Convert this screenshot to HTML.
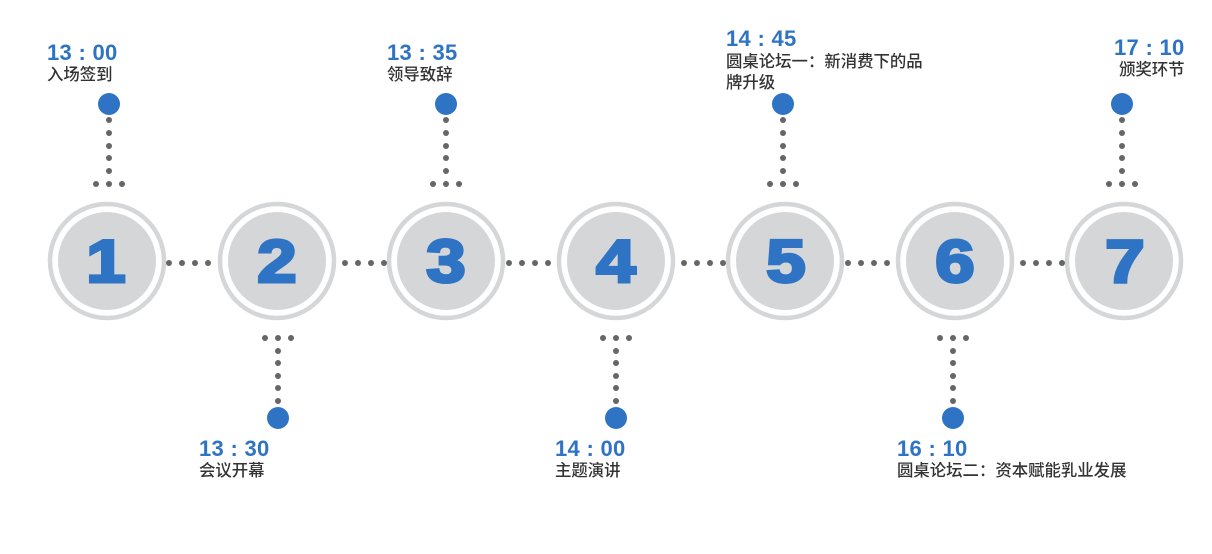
<!DOCTYPE html>
<html><head><meta charset="utf-8"><style>
body{margin:0;width:1212px;height:554px;background:#fff;position:relative;overflow:hidden;font-family:"Liberation Sans","Noto Sans CJK SC",sans-serif}
.t{position:absolute;color:#2f74c4;font-weight:bold;font-size:22px;line-height:22px;white-space:nowrap;letter-spacing:0.3px}
.l{position:absolute;color:#333;font-size:16.4px;line-height:21px;white-space:nowrap;font-weight:500}
svg{position:absolute;left:0;top:0}
.n{font-family:"Liberation Sans",sans-serif;font-weight:900;font-size:60px;fill:#2f74c4;stroke:#2f74c4;stroke-width:3}
</style></head><body>
<svg width="1212" height="554">
<g fill="#d5d6d8">
<circle cx="107" cy="261" r="57" fill="none" stroke="#d5d6d8" stroke-width="4.5"/><circle cx="107" cy="261" r="49"/>
<circle cx="277" cy="261" r="57" fill="none" stroke="#d5d6d8" stroke-width="4.5"/><circle cx="277" cy="261" r="49"/>
<circle cx="446" cy="261" r="57" fill="none" stroke="#d5d6d8" stroke-width="4.5"/><circle cx="446" cy="261" r="49"/>
<circle cx="616" cy="261" r="57" fill="none" stroke="#d5d6d8" stroke-width="4.5"/><circle cx="616" cy="261" r="49"/>
<circle cx="785" cy="261" r="57" fill="none" stroke="#d5d6d8" stroke-width="4.5"/><circle cx="785" cy="261" r="49"/>
<circle cx="955" cy="261" r="57" fill="none" stroke="#d5d6d8" stroke-width="4.5"/><circle cx="955" cy="261" r="49"/>
<circle cx="1124" cy="261" r="57" fill="none" stroke="#d5d6d8" stroke-width="4.5"/><circle cx="1124" cy="261" r="49"/>
</g>
<g text-anchor="middle" class="n">
<text class="n" transform="translate(106,282) scale(1.18,1)">1</text>
<text class="n" transform="translate(277,282) scale(1.18,1)">2</text>
<text class="n" transform="translate(446,282) scale(1.18,1)">3</text>
<text class="n" transform="translate(616,282) scale(1.18,1)">4</text>
<text class="n" transform="translate(786,282) scale(1.18,1)">5</text>
<text class="n" transform="translate(955,282) scale(1.18,1)">6</text>
<text class="n" transform="translate(1125,282) scale(1.18,1)">7</text>
</g>
<g fill="#666">
<circle cx="169" cy="263" r="3"/><circle cx="182" cy="263" r="3"/><circle cx="195" cy="263" r="3"/><circle cx="208" cy="263" r="3"/>
<circle cx="345" cy="263" r="3"/><circle cx="358" cy="263" r="3"/><circle cx="371" cy="263" r="3"/><circle cx="384" cy="263" r="3"/>
<circle cx="509" cy="263" r="3"/><circle cx="522" cy="263" r="3"/><circle cx="535" cy="263" r="3"/><circle cx="548" cy="263" r="3"/>
<circle cx="684" cy="263" r="3"/><circle cx="697" cy="263" r="3"/><circle cx="710" cy="263" r="3"/><circle cx="723" cy="263" r="3"/>
<circle cx="848" cy="263" r="3"/><circle cx="861" cy="263" r="3"/><circle cx="874" cy="263" r="3"/><circle cx="887" cy="263" r="3"/>
<circle cx="1023" cy="263" r="3"/><circle cx="1036" cy="263" r="3"/><circle cx="1049" cy="263" r="3"/><circle cx="1062" cy="263" r="3"/>
<g id="tp" transform="translate(109,0)"><circle cx="0" cy="120" r="3"/><circle cx="0" cy="133" r="3"/><circle cx="0" cy="146" r="3"/><circle cx="0" cy="158" r="3"/><circle cx="0" cy="171" r="3"/><circle cx="-13" cy="184" r="3"/><circle cx="0" cy="184" r="3"/><circle cx="13" cy="184" r="3"/></g>
<use href="#tp" transform="translate(337,0)"/>
<use href="#tp" transform="translate(674,0)"/>
<use href="#tp" transform="translate(1013,0)"/>
<g id="bt" transform="translate(278,0)"><circle cx="-13" cy="338" r="3"/><circle cx="0" cy="338" r="3"/><circle cx="13" cy="338" r="3"/><circle cx="0" cy="351" r="3"/><circle cx="0" cy="363" r="3"/><circle cx="0" cy="376" r="3"/><circle cx="0" cy="388" r="3"/><circle cx="0" cy="401" r="3"/></g>
<use href="#bt" transform="translate(338,0)"/>
<use href="#bt" transform="translate(675,0)"/>
</g>
<g fill="#2f74c4">
<circle cx="109" cy="104" r="11"/><circle cx="446" cy="104" r="11"/><circle cx="783" cy="104" r="11"/><circle cx="1122" cy="104" r="11"/>
<circle cx="278" cy="418" r="11"/><circle cx="616" cy="418" r="11"/><circle cx="953" cy="418" r="11"/>
</g>
</svg>
<div class="t" style="left:47px;top:42px">13 : 00</div><div class="l" style="left:47px;top:65px">入场签到</div>
<div class="t" style="left:387px;top:42px">13 : 35</div><div class="l" style="left:387px;top:65px">领导致辞</div>
<div class="t" style="left:726px;top:28px">14 : 45</div><div class="l" style="left:726px;top:52px">圆桌论坛一：新消费下的品<br>牌升级</div>
<div class="t" style="left:1114px;top:37px">17 : 10</div><div class="l" style="left:1119px;top:60px">颁奖环节</div>
<div class="t" style="left:199px;top:438px">13 : 30</div><div class="l" style="left:199px;top:461px">会议开幕</div>
<div class="t" style="left:555px;top:438px">14 : 00</div><div class="l" style="left:555px;top:461px">主题演讲</div>
<div class="t" style="left:897px;top:438px">16 : 10</div><div class="l" style="left:897px;top:461px">圆桌论坛二：资本赋能乳业发展</div>
</body></html>
